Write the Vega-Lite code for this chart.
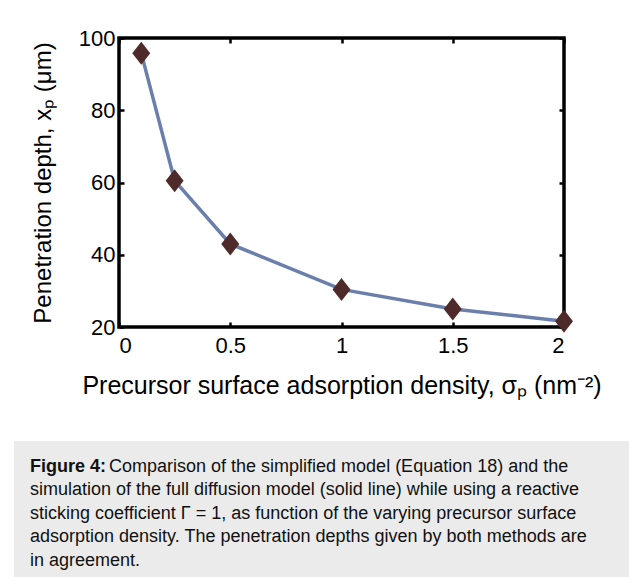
{
  "$schema": "https://vega.github.io/schema/vega-lite/v6.json",
  "background": "white",
  "padding": {"left": 14, "top": 25, "right": 0, "bottom": 0},
  "config": {"font": "Liberation Sans", "view": {"stroke": null}},
  "spacing": 41,
  "datasets": {
    "depth": [
      {"sigma": 0.1, "xp": 95.8},
      {"sigma": 0.25, "xp": 60.5},
      {"sigma": 0.5, "xp": 43.0},
      {"sigma": 1.0, "xp": 30.4},
      {"sigma": 1.5, "xp": 25.0},
      {"sigma": 2.0, "xp": 21.6}
    ],
    "none": [],
    "label": [{"line": 1, "text": "Figure 4:"}],
    "first": [{"line": 1, "text": "Comparison of the simplified model (Equation 18) and the"}],
    "rest": [
      {"line": 2, "text": "simulation of the full diffusion model (solid line) while using a reactive"},
      {"line": 3, "text": "sticking coefficient Γ = 1, as function of the varying precursor surface"},
      {"line": 4, "text": "adsorption density. The penetration depths given by both methods are"},
      {"line": 5, "text": "in agreement."}
    ]
  },
  "vconcat": [
    {
      "spacing": 14,
      "hconcat": [
        {
          "width": 1,
          "height": 1,
          "data": {"name": "none"},
          "mark": "point",
          "encoding": {}
        },
        {
          "width": 445,
          "height": 289,
          "view": {"stroke": "black", "strokeWidth": 3.5},
          "data": {"name": "depth"},
          "layer": [
            {
              "mark": {"type": "line", "color": "#6a7fab", "strokeWidth": 3.5},
              "encoding": {
                "x": {
                  "field": "sigma", "type": "quantitative",
                  "scale": {"domain": [0, 2], "nice": false},
                  "axis": {
                    "orient": "bottom", "values": [0, 0.5, 1, 1.5, 2], "format": "~g",
                    "domain": false, "grid": false,
                    "tickSize": -5, "tickWidth": 2.5, "tickColor": "black",
                    "labelPadding": 13, "labelFontSize": 22, "labelColor": "black",
                    "title": "Precursor surface adsorption density, σₚ (nm⁻²)",
                    "titleFontSize": 25, "titleFontWeight": "normal", "titleColor": "black",
                    "titlePadding": 17
                  }
                },
                "y": {
                  "field": "xp", "type": "quantitative",
                  "scale": {"domain": [20, 100], "nice": false},
                  "axis": {
                    "orient": "left", "values": [20, 40, 60, 80, 100],
                    "domain": false, "grid": false,
                    "tickSize": -5, "tickWidth": 2.5, "tickColor": "black",
                    "labelPadding": 9, "labelFontSize": 22, "labelColor": "black",
                    "title": "Penetration depth, xₚ (μm)",
                    "titleFontSize": 24, "titleFontWeight": "normal", "titleColor": "black",
                    "titlePadding": 23
                  }
                }
              }
            },
            {
              "mark": {"type": "point", "shape": "M0,-1L0.78,0L0,1L-0.78,0Z", "filled": true, "color": "#4e2a2a", "opacity": 1, "size": 529},
              "encoding": {
                "x": {
                  "field": "sigma", "type": "quantitative",
                  "scale": {"domain": [0, 2], "nice": false},
                  "axis": {
                    "orient": "top", "values": [0, 0.5, 1, 1.5, 2],
                    "domain": false, "grid": false, "labels": false, "title": null,
                    "tickSize": -5, "tickWidth": 2.5, "tickColor": "black"
                  }
                },
                "y": {
                  "field": "xp", "type": "quantitative",
                  "scale": {"domain": [20, 100], "nice": false},
                  "axis": {
                    "orient": "right", "values": [20, 40, 60, 80, 100],
                    "domain": false, "grid": false, "labels": false, "title": null,
                    "tickSize": -5, "tickWidth": 2.5, "tickColor": "black"
                  }
                }
              }
            }
          ],
          "resolve": {"axis": {"x": "independent", "y": "independent"}}
        }
      ]
    },
    {
      "width": 615,
      "height": 140,
      "view": {"fill": "#ebebeb", "stroke": null},
      "layer": [
        {
          "data": {"name": "label"},
          "mark": {"type": "text", "align": "left", "baseline": "middle", "fontSize": 18, "fontWeight": "bold", "color": "#111111"},
          "encoding": {
            "x": {"value": 16},
            "y": {"field": "line", "type": "quantitative", "scale": {"domain": [-0.09, 5.87], "reverse": true}, "axis": null},
            "text": {"field": "text"}
          }
        },
        {
          "data": {"name": "first"},
          "mark": {"type": "text", "align": "left", "baseline": "middle", "fontSize": 18, "color": "#111111", "dx": 79},
          "encoding": {
            "x": {"value": 16},
            "y": {"field": "line", "type": "quantitative", "scale": {"domain": [-0.09, 5.87], "reverse": true}, "axis": null},
            "text": {"field": "text"}
          }
        },
        {
          "data": {"name": "rest"},
          "mark": {"type": "text", "align": "left", "baseline": "middle", "fontSize": 18, "color": "#111111"},
          "encoding": {
            "x": {"value": 16},
            "y": {"field": "line", "type": "quantitative", "scale": {"domain": [-0.09, 5.87], "reverse": true}, "axis": null},
            "text": {"field": "text"}
          }
        }
      ]
    }
  ]
}
